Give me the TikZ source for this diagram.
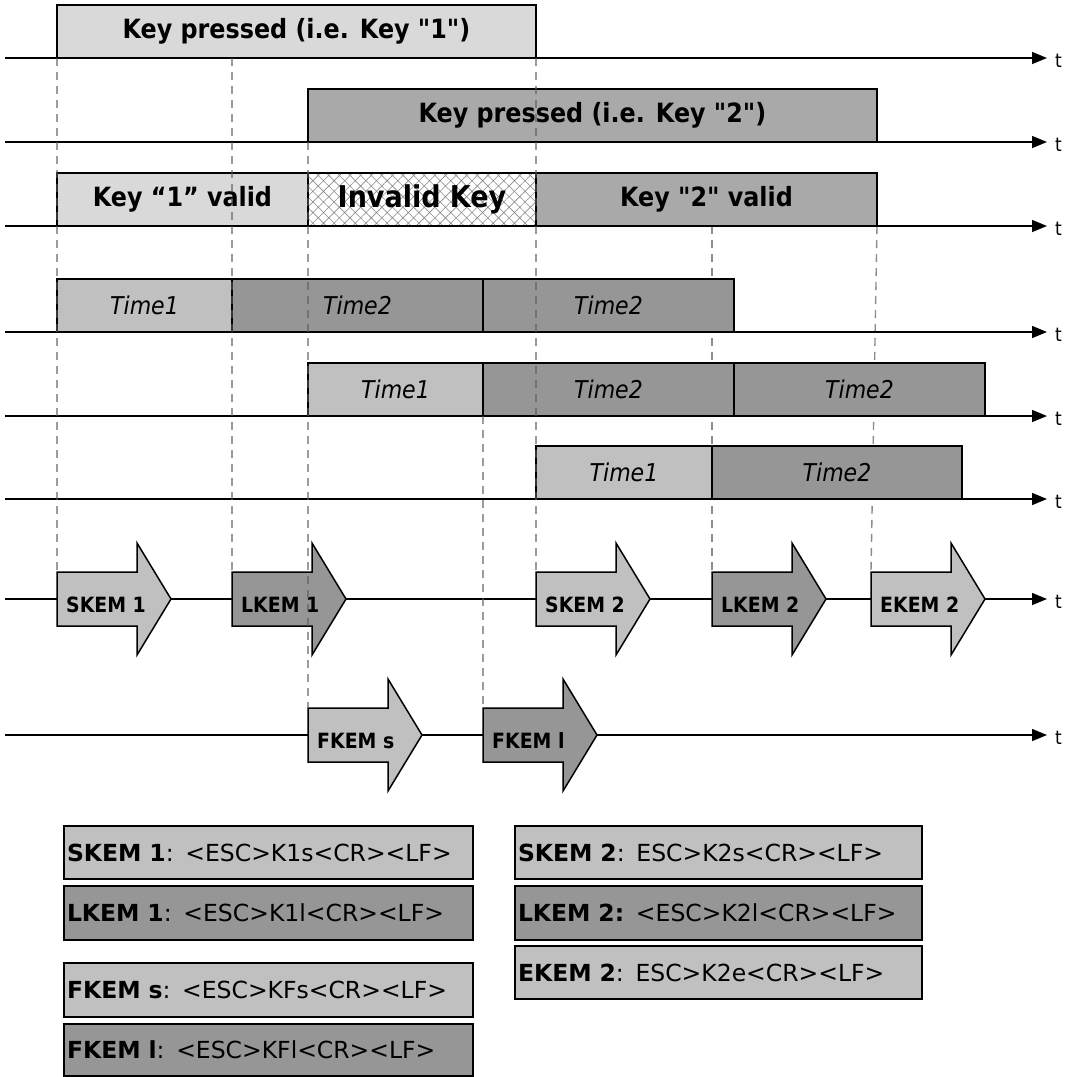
\documentclass[tikz,border=0pt]{standalone}
\usepackage{fontspec}
\setmainfont{DejaVu Sans}
\newfontfamily\condfont{DejaVu Sans Condensed}
\usetikzlibrary{arrows.meta,patterns.meta}
\definecolor{lightA}{HTML}{D9D9D9}
\definecolor{midA}{HTML}{A9A9A9}
\definecolor{toneS}{HTML}{C0C0C0}
\definecolor{toneL}{HTML}{969696}
\definecolor{dashback}{HTML}{8C8C8C}
\definecolor{dashfront}{HTML}{5A5A5A}
\definecolor{hatchgray}{HTML}{8A8A8A}
\newcommand\qq{{\char34}}
\tikzset{
  bar/.style={draw=black, line width=1.6pt, inner sep=0pt, outer sep=0pt, minimum height=53},
  headtext/.style={font=\condfont\bfseries\fontsize{26.5}{30}\selectfont},
  timetext/.style={font=\condfont\itshape\fontsize{24.5}{28}\selectfont},
  axisline/.style={line width=1.5pt, -{Triangle[length=15pt,width=12pt]}},
  tlabel/.style={anchor=west, inner sep=0pt, font=\condfont\fontsize{19}{21}\selectfont},
  backdash/.style={draw=dashback, line width=1.4pt, dash pattern=on 8pt off 6pt},
  frontdash/.style={draw=dashfront, opacity=0.6, line width=1.4pt, dash pattern=on 8pt off 6pt},
  kemshape/.style={draw=black, line width=1.5pt, line join=miter},
  kemtext/.style={anchor=base west, inner sep=0pt, font=\condfont\bfseries\fontsize{21}{24}\selectfont},
  legendbox/.style={draw=black, line width=1.8pt, inner xsep=3pt, inner ysep=0pt, outer sep=0pt,
     minimum height=53, align=left, font=\fontsize{23.5}{27}\selectfont},
}
% arrow shape: #1 x-left, #2 axis y, #3 fill, #4 node name, #5 label
\newcommand\kemarrow[5]{%
  \filldraw[kemshape, fill=#3] (#1,#2-27) -- ++(80,0) -- ++(0,-29) -- ++(34,56)
     -- ++(-34,56) -- ++(0,-29) -- ++(-80,0) -- cycle;
  \node[kemtext] (#4) at (#1+9,#2+13) {#5};}
\begin{document}
\begin{tikzpicture}[x=1pt,y=-1pt]
\useasboundingbox (0,0) rectangle (1069,1077);
\fill[white] (0,0) rectangle (1069,1077);

% dashed guide lines behind the boxes
\coordinate (g6a) at (712,226); \coordinate (g6b) at (712,571);
\coordinate (g7a) at (877,226); \coordinate (g7b) at (871,571);
\draw[backdash] (g6a) -- (g6b);
\draw[backdash] (g7a) -- (g7b);

% axes
\foreach \yy/\nm in {58/a1,142/a2,226/a3,332/a4,416/a5,499/a6,599/a7,735/a8}{
  \coordinate (\nm s) at (5,\yy);
  \coordinate (\nm e) at (1047,\yy);
  \draw[axisline] (\nm s) -- (\nm e);
  \node[tlabel] (\nm t) at (1055,\yy+3) {t};
}

% row 1
\node[bar, fill=lightA, minimum width=479, headtext] (kp1) at (296.5,31.5) {Key pressed (i.e. Key \qq1\qq)};
% row 2
\node[bar, fill=midA, minimum width=569, headtext] (kp2) at (592.5,115.5) {Key pressed (i.e. Key \qq2\qq)};
% row 3
\node[bar, fill=lightA, minimum width=251, headtext] (k1v) at (182.5,199.5) {Key “1” valid};
\node[bar, fill=white, minimum width=228] (inv) at (422,199.5) {};
\fill[pattern={Hatch[angle=45,distance=7.5pt,line width=0.6pt]}, pattern color=hatchgray]
   (inv.south west) rectangle (inv.north east);
\draw[black, line width=1.6pt] (inv.south west) rectangle (inv.north east);
\node[inner sep=0pt, font=\condfont\bfseries\fontsize{30}{33}\selectfont] (invt) at (inv.center) {Invalid Key};
\node[bar, fill=midA, minimum width=341, headtext] (k2v) at (706.5,199.5) {Key \qq2\qq{} valid};

% row 4
\node[bar, fill=toneS, minimum width=175, timetext] (r4a) at (144.5,305.5) {Time1};
\node[bar, fill=toneL, minimum width=251, timetext] (r4b) at (357.5,305.5) {Time2};
\node[bar, fill=toneL, minimum width=251, timetext] (r4c) at (608.5,305.5) {Time2};
% row 5
\node[bar, fill=toneS, minimum width=175, timetext] (r5a) at (395.5,389.5) {Time1};
\node[bar, fill=toneL, minimum width=251, timetext] (r5b) at (608.5,389.5) {Time2};
\node[bar, fill=toneL, minimum width=251, timetext] (r5c) at (859.5,389.5) {Time2};
% row 6
\node[bar, fill=toneS, minimum width=176, timetext] (r6a) at (624,472.5) {Time1};
\node[bar, fill=toneL, minimum width=250, timetext] (r6b) at (837,472.5) {Time2};

% row 7 arrows
\kemarrow{57}{599}{toneS}{skem1}{SKEM 1}
\kemarrow{232}{599}{toneL}{lkem1}{LKEM 1}
\kemarrow{536}{599}{toneS}{skem2}{SKEM 2}
\kemarrow{712}{599}{toneL}{lkem2}{LKEM 2}
\kemarrow{871}{599}{toneS}{ekem2}{EKEM 2}
% row 8 arrows
\kemarrow{308}{735}{toneS}{fkems}{FKEM s}
\kemarrow{483}{735}{toneL}{fkeml}{FKEM l}

% dashed guide lines in front
\coordinate (g1a) at (57,58);  \coordinate (g1b) at (57,571);
\coordinate (g2a) at (232,58); \coordinate (g2b) at (232,571);
\coordinate (g3a) at (308,142); \coordinate (g3b) at (308,708);
\coordinate (g4a) at (483,416); \coordinate (g4b) at (483,708);
\coordinate (g5a) at (536,58); \coordinate (g5b) at (536,571);
\draw[frontdash] (g1a) -- (g1b);
\draw[frontdash] (g2a) -- (g2b);
\draw[frontdash] (g3a) -- (g3b);
\draw[frontdash] (g4a) -- (g4b);
\draw[frontdash] (g5a) -- (g5b);

% legend
\node[legendbox, fill=toneS, text width=403, anchor=north west] (lg1) at (64,826) {\textbf{SKEM 1}: <ESC>K1s<CR><LF>};
\node[legendbox, fill=toneL, text width=403, anchor=north west, minimum height=54] (lg2) at (64,886) {\textbf{LKEM 1}: <ESC>K1l<CR><LF>};
\node[legendbox, fill=toneS, text width=403, anchor=north west, minimum height=54] (lg3) at (64,963) {\textbf{FKEM s}: <ESC>KFs<CR><LF>};
\node[legendbox, fill=toneL, text width=403, anchor=north west, minimum height=52] (lg4) at (64,1024) {\textbf{FKEM l}: <ESC>KFl<CR><LF>};
\node[legendbox, fill=toneS, text width=401, anchor=north west] (lg5) at (515,826) {\textbf{SKEM 2}: ESC>K2s<CR><LF>};
\node[legendbox, fill=toneL, text width=401, anchor=north west, minimum height=54] (lg6) at (515,886) {\textbf{LKEM 2:} <ESC>K2l<CR><LF>};
\node[legendbox, fill=toneS, text width=401, anchor=north west, minimum height=53] (lg7) at (515,946) {\textbf{EKEM 2}: ESC>K2e<CR><LF>};
\end{tikzpicture}
\end{document}
